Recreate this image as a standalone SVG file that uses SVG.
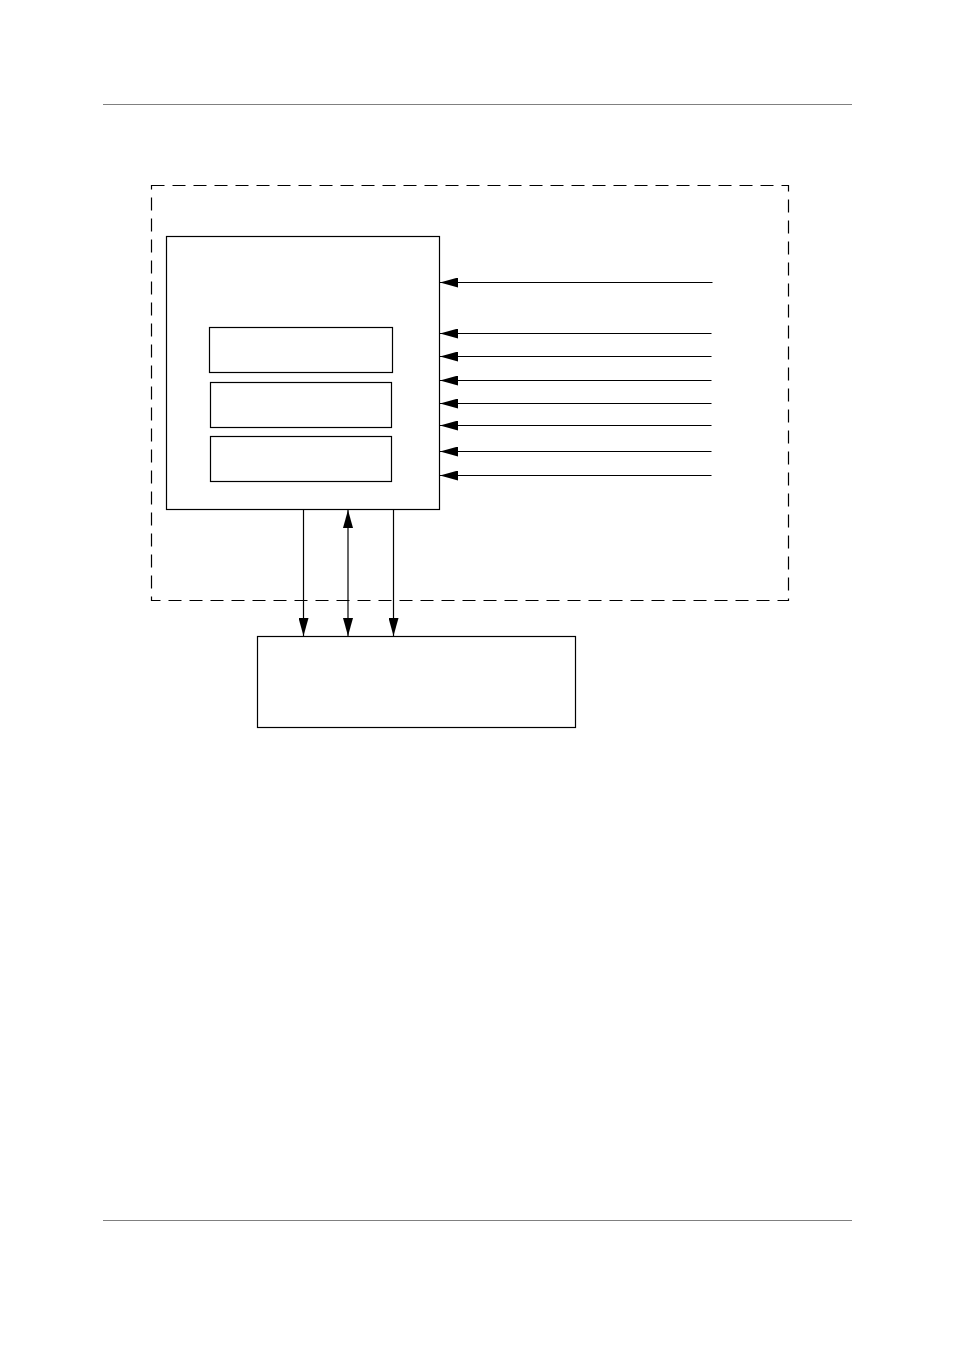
<svg xmlns="http://www.w3.org/2000/svg" width="954" height="1351" viewBox="0 0 954 1351">
<style>
.box{fill:none;stroke:#000;stroke-width:1.2}
.dash{fill:none;stroke:#000;stroke-width:1.2;stroke-dasharray:13 8}
.ln{stroke:#000;stroke-width:1.2;fill:none}
.rule{stroke:#808080;stroke-width:1}
</style>
<defs>
<marker id="ah" viewBox="0 0 18 10" refX="18" refY="5" markerWidth="18" markerHeight="10" markerUnits="userSpaceOnUse" orient="auto-start-reverse">
<path d="M0,0 L18,5 L0,10 Z" fill="#000"/>
</marker>
</defs>
<rect width="954" height="1351" fill="#fff"/>
<line class="rule" x1="103" y1="104.5" x2="852" y2="104.5"/>
<line class="rule" x1="103" y1="1220.5" x2="852" y2="1220.5"/>
<g id="boundary"><rect class="dash" x="151.5" y="185.5" width="637" height="415"/></g>
<g id="main"><rect class="box" x="166.5" y="236.5" width="273" height="273"/></g>
<g id="sub1"><rect class="box" x="209.5" y="327.5" width="183" height="45"/></g>
<g id="sub2"><rect class="box" x="210.5" y="382.5" width="181" height="45"/></g>
<g id="sub3"><rect class="box" x="210.5" y="436.5" width="181" height="45"/></g>
<g id="bottom"><rect class="box" x="257.5" y="636.5" width="318" height="91"/></g>
<g id="connectors">
<line class="ln" x1="712.5" y1="282.5" x2="440" y2="282.5" marker-end="url(#ah)"/>
<line class="ln" x1="711.5" y1="333.5" x2="440" y2="333.5" marker-end="url(#ah)"/>
<line class="ln" x1="711.5" y1="356.5" x2="440" y2="356.5" marker-end="url(#ah)"/>
<line class="ln" x1="711.5" y1="380.5" x2="440" y2="380.5" marker-end="url(#ah)"/>
<line class="ln" x1="711.5" y1="403.5" x2="440" y2="403.5" marker-end="url(#ah)"/>
<line class="ln" x1="711.5" y1="425.5" x2="440" y2="425.5" marker-end="url(#ah)"/>
<line class="ln" x1="711.5" y1="451.5" x2="440" y2="451.5" marker-end="url(#ah)"/>
<line class="ln" x1="711.5" y1="475.5" x2="440" y2="475.5" marker-end="url(#ah)"/>
<line class="ln" x1="303.5" y1="510" x2="303.5" y2="636" marker-end="url(#ah)"/>
<line class="ln" x1="348" y1="510" x2="348" y2="636" marker-start="url(#ah)" marker-end="url(#ah)"/>
<line class="ln" x1="393.5" y1="510" x2="393.5" y2="636" marker-end="url(#ah)"/>
</g>
</svg>
